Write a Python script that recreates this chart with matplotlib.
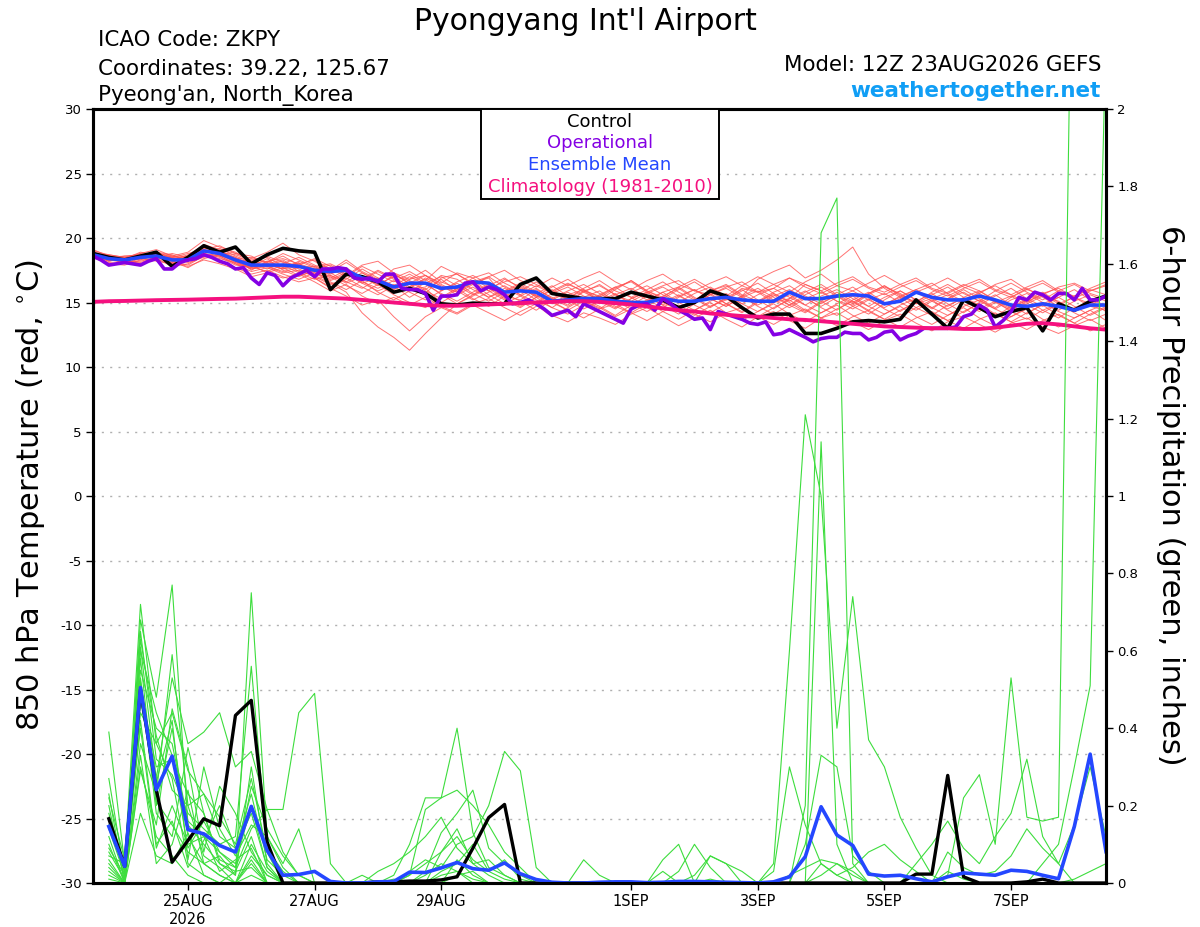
import matplotlib
matplotlib.use("Agg")
import matplotlib.pyplot as plt
from matplotlib.patches import Rectangle
import numpy as np
import pandas as pd

plt.rcParams["axes.unicode_minus"] = False

### Forecast times of the 12Z 23AUG2026 GEFS run
times_6h = pd.date_range("2026-08-23 12:00", "2026-09-08 12:00", freq="6h")   # 65 steps
times_3h = pd.date_range("2026-08-23 12:00", "2026-09-08 12:00", freq="3h")   # operational run, 129 steps

## 850 hPa temperature (deg C)
control_temp = [18.8, 18.5, 18.3, 18.6, 18.9, 17.8, 18.5, 19.4, 18.9, 19.3, 18.0, 18.7, 19.2, 19.0, 18.9,
                16.0, 17.2, 17.0, 16.6, 15.8, 16.1, 15.7, 14.9, 14.8, 14.95, 14.9, 14.9, 16.4, 16.9, 15.7,
                15.5, 15.3, 15.3, 15.3, 15.8, 15.5, 15.2, 14.6, 15.0, 15.9, 15.5, 14.6, 13.8, 14.1, 14.1,
                12.6, 12.6, 13.0, 13.5, 13.6, 13.5, 13.7, 15.2, 14.1, 13.0, 15.2, 14.6, 13.9, 14.3, 14.6,
                12.8, 14.9, 14.4, 15.1, 15.5]
ensmean_temp = [18.7, 18.4, 18.3, 18.5, 18.6, 18.3, 18.3, 19.0, 18.8, 18.3, 17.9, 17.9, 17.9, 17.8, 17.5,
                17.4, 17.5, 16.9, 16.7, 16.2, 16.5, 16.5, 16.1, 16.2, 16.6, 16.5, 15.8, 15.9, 15.8, 15.1,
                15.2, 15.3, 15.3, 15.1, 15.0, 15.0, 15.3, 15.1, 15.1, 15.3, 15.4, 15.2, 15.1, 15.1, 15.8,
                15.3, 15.3, 15.5, 15.6, 15.5, 14.9, 15.1, 15.8, 15.4, 15.2, 15.2, 15.5, 15.2, 14.8, 14.7,
                14.9, 14.7, 14.4, 14.8, 14.8]
clim_temp = [15.05, 15.1, 15.12, 15.15, 15.18, 15.2, 15.22, 15.25, 15.28, 15.3, 15.35, 15.4, 15.45, 15.45, 15.4,
             15.35, 15.3, 15.2, 15.1, 15.0, 14.9, 14.8, 14.75, 14.75, 14.8, 14.85, 14.9, 14.95, 15.0, 15.05,
             15.1, 15.1, 15.05, 14.95, 14.85, 14.7, 14.55, 14.4, 14.3, 14.15, 14.05, 13.95, 13.9, 13.8, 13.7,
             13.65, 13.55, 13.45, 13.35, 13.25, 13.15, 13.1, 13.05, 13.0, 13.0, 12.95, 12.95, 13.05, 13.2, 13.35,
             13.4, 13.3, 13.15, 13.0, 12.9]
oper_temp = [18.6, 18.3, 17.9, 18.0, 18.1, 18.0, 17.9, 18.2, 18.4, 17.6, 17.6, 18.1, 18.3, 18.4, 18.7,
             18.5, 18.2, 18.0, 17.6, 17.7, 16.9, 16.4, 17.3, 17.1, 16.3, 16.9, 17.2, 17.5, 17.0, 17.6,
             17.6, 17.7, 17.6, 16.9, 16.8, 16.9, 16.6, 17.2, 17.2, 16.1, 16.0, 16.0, 15.7, 14.4, 15.5,
             15.5, 15.6, 16.5, 16.6, 15.9, 16.2, 16.0, 15.6, 14.9, 15.0, 15.2, 14.9, 14.5, 14.0, 14.2,
             14.4, 13.9, 14.9, 14.6, 14.3, 14.0, 13.7, 13.4, 14.5, 14.8, 14.9, 14.4, 15.3, 14.9, 14.4,
             14.1, 13.7, 13.8, 12.9, 14.3, 14.1, 13.9, 13.7, 13.4, 13.3, 13.5, 12.5, 12.6, 12.9, 12.6,
             12.3, 11.95, 12.2, 12.3, 12.3, 12.7, 12.6, 12.6, 12.1, 12.3, 12.7, 12.8, 12.1, 12.4, 12.6,
             13.0, 13.0, 13.0, 13.0, 13.1, 13.9, 14.1, 14.8, 14.4, 13.1, 13.6, 14.3, 15.4, 15.2, 15.8,
             15.6, 15.2, 15.7, 15.7, 15.2, 16.1, 15.2, 15.2, 15.5]

# 20 perturbed members, one row each
member_temp = [
    [18.8, 18.5, 18.2, 18.6, 18.9, 18.4, 18.2, 19.2, 19.0, 18.5, 18.0, 18.2, 18.4, 18.0, 17.6, 17.9, 17.2, 16.5, 16.9, 16.0, 16.8, 17.1, 16.2, 15.8, 16.5, 16.9, 15.5, 15.2, 16.0, 15.4, 14.8, 15.9, 16.3, 15.6, 14.9, 15.1, 15.8, 16.2, 15.4, 14.7, 15.2, 16.1, 15.8, 15.0, 15.3, 16.4, 15.9, 15.1, 14.8, 15.6, 16.2, 15.7, 14.9, 15.3, 15.8, 16.4, 15.9, 15.2, 14.6, 14.9, 15.5, 15.1, 14.3, 14.8, 15.4],
    [18.6, 18.2, 18.4, 18.9, 18.7, 18.1, 18.6, 19.5, 19.1, 18.8, 18.4, 18.9, 19.6, 18.7, 18.2, 17.5, 18.3, 17.4, 16.8, 17.3, 16.4, 15.7, 16.9, 17.2, 16.5, 15.9, 16.8, 16.2, 15.4, 15.9, 16.5, 15.8, 15.2, 16.0, 16.7, 15.9, 15.4, 16.2, 16.8, 16.1, 15.5, 16.3, 17.0, 16.4, 15.8, 16.6, 17.2, 16.3, 15.9, 16.5, 17.1, 16.4, 15.8, 16.3, 16.9, 16.2, 15.7, 16.4, 16.8, 16.0, 15.6, 16.2, 16.5, 15.9, 16.3],
    [18.5, 18.0, 17.9, 18.3, 18.4, 17.8, 18.0, 18.6, 18.3, 17.7, 17.2, 17.5, 17.0, 16.6, 16.9, 16.1, 15.5, 14.8, 15.2, 13.9, 12.8, 13.9, 14.6, 14.1, 14.8, 14.2, 13.6, 14.3, 14.9, 14.0, 13.5, 14.2, 13.8, 13.3, 14.1, 14.6, 13.9, 13.2, 13.8, 14.4, 13.7, 13.1, 13.9, 14.3, 13.6, 13.0, 13.8, 14.2, 13.5, 12.9, 13.6, 14.1, 13.4, 12.8, 13.5, 13.9, 13.3, 12.7, 13.4, 13.8, 13.1, 12.6, 13.2, 13.7, 13.0],
    [19.0, 18.7, 18.5, 18.8, 19.1, 18.6, 18.9, 19.8, 19.3, 18.9, 18.2, 18.6, 18.1, 17.9, 18.4, 17.8, 17.1, 17.9, 18.2, 17.3, 16.8, 17.5, 16.6, 16.1, 16.9, 17.3, 16.5, 15.9, 16.6, 15.8, 15.3, 16.1, 16.7, 15.9, 15.4, 16.0, 16.6, 15.8, 15.2, 15.9, 16.4, 15.6, 15.1, 15.8, 16.3, 15.5, 14.9, 15.6, 16.2, 15.4, 14.8, 15.5, 16.0, 15.3, 14.7, 15.4, 15.9, 15.1, 14.5, 15.2, 15.8, 15.0, 14.4, 15.1, 15.6],
    [18.4, 18.3, 18.1, 18.2, 18.5, 18.2, 17.7, 18.4, 18.7, 18.1, 17.6, 17.8, 17.3, 17.5, 17.0, 16.4, 16.9, 16.2, 15.6, 16.3, 15.4, 16.1, 15.0, 15.7, 16.4, 15.6, 14.9, 15.5, 16.1, 15.3, 14.7, 15.4, 15.9, 15.1, 14.5, 15.2, 15.8, 15.0, 14.4, 15.1, 15.7, 14.9, 14.3, 15.0, 15.6, 14.8, 14.2, 14.9, 15.5, 14.7, 14.1, 14.8, 15.3, 14.6, 14.0, 14.7, 15.2, 14.5, 13.9, 14.6, 15.0, 14.3, 13.8, 14.4, 14.9],
    [18.9, 18.4, 18.6, 18.7, 18.3, 18.5, 18.8, 19.1, 18.6, 18.0, 17.7, 18.0, 18.3, 17.6, 17.1, 16.5, 15.8, 14.2, 13.1, 12.3, 11.3, 12.6, 13.8, 14.9, 15.6, 16.2, 15.4, 14.8, 15.7, 16.3, 15.5, 14.9, 15.6, 16.2, 15.4, 14.7, 15.5, 16.1, 15.3, 14.6, 15.4, 16.0, 15.2, 14.5, 15.3, 15.9, 15.1, 14.4, 15.2, 15.8, 15.0, 14.3, 15.1, 15.7, 14.9, 14.2, 15.0, 15.6, 14.8, 14.1, 14.9, 15.4, 14.7, 14.0, 14.6],
    [18.7, 18.6, 18.4, 18.3, 18.8, 18.3, 18.5, 18.9, 19.2, 18.6, 18.1, 17.6, 18.0, 18.5, 17.9, 17.2, 17.7, 16.9, 16.4, 17.0, 16.2, 16.8, 15.9, 16.6, 17.1, 16.4, 15.7, 16.3, 15.5, 14.9, 15.6, 16.0, 15.2, 14.6, 15.3, 15.8, 15.1, 14.5, 15.2, 15.9, 16.3, 15.5, 16.8, 17.4, 17.9, 16.9, 17.5, 18.3, 19.3, 17.2, 16.1, 15.4, 16.0, 16.5, 15.7, 15.1, 15.8, 16.3, 15.6, 15.0, 15.7, 16.1, 15.4, 14.9, 15.5],
    [18.6, 18.4, 18.3, 18.5, 18.2, 18.0, 18.3, 18.7, 18.4, 18.1, 17.8, 17.4, 17.9, 17.3, 16.8, 17.1, 16.6, 17.3, 16.7, 16.0, 16.6, 15.9, 15.3, 16.0, 16.7, 15.9, 15.2, 14.6, 15.4, 16.0, 15.2, 14.5, 15.1, 15.7, 14.9, 14.3, 15.0, 15.6, 14.8, 14.2, 14.9, 15.5, 14.7, 14.1, 14.8, 15.4, 14.6, 14.0, 14.7, 15.3, 14.5, 13.9, 14.6, 15.2, 14.4, 13.8, 14.5, 15.1, 14.3, 13.7, 14.4, 14.9, 14.2, 13.6, 14.1],
    [18.8, 18.3, 18.2, 18.7, 18.9, 18.7, 18.2, 19.3, 19.0, 18.4, 18.5, 18.1, 18.8, 18.3, 17.8, 18.0, 17.4, 16.8, 17.5, 16.9, 17.4, 16.7, 17.8, 17.2, 16.4, 17.0, 17.5, 16.7, 16.2, 16.9, 16.3, 16.9, 17.4, 16.6, 16.0, 16.7, 17.2, 16.4, 15.9, 16.5, 17.0, 16.3, 15.8, 16.4, 16.9, 16.2, 15.7, 16.3, 16.8, 16.1, 15.6, 16.2, 16.7, 16.0, 15.5, 16.1, 16.6, 15.9, 15.4, 16.0, 16.5, 15.8, 15.3, 15.9, 16.4],
    [18.5, 18.1, 18.0, 18.4, 18.6, 18.4, 18.1, 18.5, 18.9, 18.3, 17.9, 17.3, 17.7, 17.1, 17.4, 16.7, 17.2, 16.5, 15.9, 16.4, 15.8, 15.2, 15.9, 16.5, 15.7, 15.1, 15.8, 16.4, 15.6, 15.0, 14.4, 15.1, 14.6, 13.9, 14.5, 15.0, 14.3, 13.7, 14.4, 15.0, 14.2, 13.6, 14.3, 14.9, 14.1, 13.5, 14.2, 14.8, 14.0, 13.4, 14.1, 14.7, 13.9, 13.3, 14.0, 14.6, 13.8, 13.2, 13.9, 14.5, 13.7, 13.1, 13.8, 14.4, 13.6],
    [19.1, 18.6, 18.3, 18.8, 18.6, 18.3, 18.7, 19.4, 18.8, 18.5, 17.5, 18.2, 17.7, 18.1, 16.9, 16.2, 16.8, 17.6, 16.9, 16.3, 17.0, 16.4, 15.7, 15.1, 15.8, 16.4, 15.7, 15.1, 14.4, 15.2, 15.8, 15.1, 14.5, 15.3, 15.9, 15.2, 14.6, 15.4, 16.0, 15.3, 14.7, 15.5, 16.1, 15.4, 14.8, 15.6, 16.2, 15.5, 14.9, 15.7, 16.3, 15.6, 15.0, 15.8, 16.4, 15.7, 15.1, 15.9, 16.5, 15.8, 15.2, 15.9, 16.4, 15.7, 15.3],
    [18.7, 18.2, 18.5, 18.4, 18.7, 18.0, 18.4, 19.0, 18.7, 18.2, 17.6, 17.9, 18.2, 17.4, 17.6, 17.0, 16.3, 15.7, 16.4, 15.6, 15.0, 14.6, 15.4, 16.1, 15.3, 14.7, 15.5, 16.0, 15.2, 14.6, 15.4, 15.9, 15.1, 14.5, 15.3, 15.8, 15.0, 14.4, 15.2, 15.7, 14.9, 14.3, 15.1, 15.6, 14.8, 14.2, 15.0, 15.5, 14.7, 14.1, 14.9, 15.4, 14.6, 14.0, 14.8, 15.3, 14.5, 13.9, 14.7, 15.2, 14.4, 13.8, 14.6, 15.1, 14.3],
    [18.6, 18.5, 18.6, 18.6, 18.4, 18.6, 18.3, 18.8, 18.5, 17.9, 17.8, 18.4, 17.5, 17.0, 17.5, 16.9, 17.5, 16.7, 17.4, 16.8, 16.1, 16.9, 16.3, 15.6, 16.2, 15.4, 16.1, 15.5, 14.8, 13.9, 14.6, 15.3, 14.7, 14.0, 14.8, 15.5, 14.8, 14.1, 14.9, 15.6, 14.9, 14.2, 15.0, 15.7, 15.0, 14.3, 15.1, 15.8, 15.1, 14.4, 15.2, 15.9, 15.2, 14.5, 15.3, 16.0, 15.3, 14.6, 15.4, 16.1, 15.4, 14.7, 15.5, 16.0, 15.6],
    [18.4, 18.6, 18.2, 18.1, 18.5, 18.8, 18.5, 19.1, 19.4, 18.8, 18.6, 18.0, 17.6, 18.2, 17.7, 17.4, 18.1, 17.3, 16.6, 17.6, 17.9, 17.1, 16.5, 17.3, 16.9, 16.1, 16.6, 17.0, 16.4, 15.8, 16.4, 15.9, 15.5, 16.2, 16.6, 15.8, 16.3, 16.7, 15.9, 15.6, 16.2, 16.6, 15.8, 16.1, 16.9, 16.4, 15.9, 16.5, 17.0, 16.2, 15.8, 16.4, 16.9, 16.1, 15.7, 16.3, 16.8, 16.0, 15.6, 16.2, 16.7, 15.9, 15.5, 16.1, 16.6],
    [18.9, 18.3, 18.4, 18.6, 18.8, 18.2, 17.9, 18.6, 18.6, 18.0, 17.4, 17.7, 17.2, 16.8, 17.3, 16.6, 16.0, 16.7, 15.8, 15.2, 15.9, 16.5, 15.6, 14.9, 15.5, 16.1, 15.3, 14.7, 15.4, 14.6, 14.1, 14.8, 15.5, 14.7, 14.2, 14.9, 15.4, 14.6, 14.0, 14.7, 15.3, 14.5, 13.9, 14.6, 15.2, 14.4, 13.8, 14.5, 15.1, 14.3, 13.7, 14.4, 15.0, 14.2, 13.6, 14.3, 14.9, 14.1, 13.5, 14.2, 14.8, 14.0, 13.4, 14.1, 14.7],
    [18.8, 18.7, 18.5, 18.5, 18.9, 18.5, 18.6, 19.3, 18.9, 18.7, 18.3, 18.5, 17.8, 18.0, 18.3, 17.6, 17.0, 17.8, 17.2, 16.6, 17.2, 16.5, 17.0, 16.3, 15.6, 16.3, 16.9, 16.1, 15.5, 16.2, 16.8, 16.0, 15.4, 16.1, 16.7, 15.9, 15.3, 16.0, 16.6, 15.8, 15.2, 15.9, 16.5, 15.7, 15.1, 15.8, 16.4, 15.6, 15.0, 15.7, 16.3, 15.5, 14.9, 15.6, 16.2, 15.4, 14.8, 15.5, 16.1, 15.3, 14.7, 15.4, 16.0, 15.2, 14.8],
    [18.5, 18.4, 18.3, 18.0, 18.3, 18.1, 17.8, 18.3, 18.0, 17.6, 17.0, 17.3, 16.9, 17.2, 16.6, 15.9, 16.4, 15.5, 14.9, 15.4, 14.8, 15.4, 14.7, 14.2, 14.9, 15.3, 14.6, 14.0, 14.7, 15.1, 14.4, 13.8, 14.5, 14.9, 14.2, 13.6, 14.3, 14.8, 14.1, 13.5, 14.2, 14.6, 13.9, 13.3, 14.0, 14.5, 13.8, 13.2, 13.9, 14.4, 13.7, 13.1, 13.8, 14.3, 13.6, 13.0, 13.7, 14.2, 13.5, 12.9, 13.6, 14.1, 13.4, 12.8, 13.3],
    [18.7, 18.5, 18.0, 18.5, 18.7, 18.4, 18.5, 18.8, 18.6, 18.4, 18.0, 17.9, 17.6, 17.8, 17.2, 17.3, 16.6, 16.1, 16.8, 17.2, 16.5, 17.1, 16.4, 15.8, 16.6, 17.0, 16.2, 15.6, 16.3, 15.7, 15.2, 15.8, 16.4, 15.6, 15.1, 15.7, 16.2, 15.5, 14.9, 15.6, 16.1, 15.4, 14.8, 15.5, 16.0, 15.3, 14.7, 15.4, 15.9, 15.2, 14.6, 15.3, 15.8, 15.1, 14.5, 15.2, 15.7, 15.0, 14.4, 15.1, 15.6, 14.9, 14.3, 15.0, 15.5],
    [18.6, 18.3, 18.4, 18.7, 18.8, 18.6, 18.4, 19.0, 18.8, 18.2, 17.7, 18.1, 18.6, 17.9, 17.3, 16.8, 17.3, 16.6, 16.1, 16.7, 16.0, 16.2, 17.1, 16.8, 16.0, 15.4, 15.9, 16.5, 15.8, 15.3, 15.9, 16.4, 15.7, 15.1, 15.8, 16.3, 15.6, 15.0, 15.7, 16.2, 15.5, 14.9, 15.6, 16.1, 15.4, 14.8, 15.5, 16.0, 15.3, 14.7, 15.4, 15.9, 15.2, 14.6, 15.3, 15.8, 15.1, 14.5, 15.2, 15.7, 15.0, 14.4, 15.1, 15.6, 15.1],
    [18.9, 18.6, 18.4, 18.4, 18.6, 18.5, 18.2, 18.9, 19.0, 18.3, 18.2, 17.8, 17.4, 17.7, 17.8, 17.1, 16.5, 17.0, 16.3, 17.1, 16.7, 16.0, 16.8, 15.9, 15.2, 15.8, 16.3, 15.6, 15.0, 15.7, 16.2, 15.5, 14.9, 15.6, 16.1, 15.4, 14.8, 15.5, 16.0, 15.3, 14.7, 15.4, 15.9, 15.2, 14.6, 15.3, 15.8, 15.1, 14.5, 15.2, 15.7, 15.0, 14.4, 15.1, 15.6, 14.9, 14.3, 15.0, 15.5, 14.8, 14.2, 14.9, 15.4, 14.7, 14.4],
]

## 6-hour precipitation (inches), valid from hour 6 to hour 384
control_precip = [0.166, 0.043, 0.50, 0.24, 0.054, 0.11, 0.166, 0.148, 0.433, 0.472, 0.106, 0.0, 0.0, 0.0, 0.0, 0.0,
                  0.0, 0.003, 0.003, 0.005, 0.005, 0.008, 0.016, 0.09, 0.169, 0.203, 0.0, 0.0, 0.0, 0.0, 0.0, 0.0,
                  0.0, 0.0, 0.0, 0.0, 0.0, 0.0, 0.0, 0.0, 0.0, 0.0, 0.0, 0.0, 0.0, 0.0, 0.0, 0.0,
                  0.0, 0.0, 0.0, 0.023, 0.023, 0.278, 0.016, 0.0, 0.0, 0.0, 0.003, 0.01, 0.0, 0.0, 0.0, 0.0]
ensmean_precip = [0.146, 0.043, 0.505, 0.241, 0.328, 0.138, 0.127, 0.097, 0.080, 0.198, 0.084, 0.020, 0.022, 0.030, 0.004, 0.0,
                  0.0, 0.003, 0.004, 0.028, 0.027, 0.039, 0.053, 0.037, 0.033, 0.052, 0.024, 0.009, 0.002, 0.0, 0.0, 0.002,
                  0.003, 0.003, 0.001, 0.002, 0.004, 0.004, 0.003, 0.002, 0.001, 0.0, 0.003, 0.016, 0.068, 0.197, 0.124, 0.097,
                  0.023, 0.018, 0.020, 0.011, 0.003, 0.016, 0.026, 0.023, 0.020, 0.033, 0.030, 0.020, 0.011, 0.146, 0.333, 0.081]

member_precip = [
    [0.39, 0.05, 0.72, 0.36, 0.44, 0.29, 0.23, 0.12, 0.09, 0.23, 0.06, 0.02, 0, 0, 0, 0, 0, 0, 0, 0.02, 0.05, 0.08, 0.12, 0.06, 0.03, 0.01, 0, 0, 0, 0, 0, 0, 0, 0, 0, 0, 0, 0, 0.01, 0, 0, 0, 0, 0.02, 0.04, 0.06, 0.05, 0.02, 0, 0, 0, 0, 0, 0, 0, 0, 0, 0, 0, 0, 0, 0.01, 0.03, 0.05],
    [0.27, 0.02, 0.68, 0.48, 0.77, 0.15, 0.10, 0.05, 0.02, 0.75, 0.12, 0.04, 0, 0, 0, 0, 0, 0, 0, 0, 0, 0.02, 0.03, 0.01, 0, 0, 0, 0, 0, 0, 0, 0, 0, 0, 0, 0, 0, 0, 0, 0, 0, 0, 0.05, 0.60, 1.21, 1.00, 0.40, 0.74, 0.37, 0.30, 0.17, 0.09, 0.02, 0, 0, 0, 0, 0, 0, 0, 0, 0, 0, 0],
    [0.23, 0.00, 0.61, 0.27, 0.53, 0.36, 0.39, 0.44, 0.30, 0.34, 0.19, 0.08, 0.02, 0, 0, 0, 0, 0, 0, 0, 0, 0, 0, 0, 0, 0, 0, 0, 0, 0, 0, 0, 0, 0, 0, 0, 0, 0, 0, 0, 0, 0, 0, 0, 0.20, 1.68, 1.77, 0.05, 0, 0, 0, 0, 0, 0, 0, 0, 0, 0, 0, 0, 0, 0, 0, 0],
    [0.18, 0.03, 0.58, 0.20, 0.40, 0.12, 0.05, 0.02, 0, 0.07, 0.02, 0, 0, 0, 0, 0, 0, 0, 0.01, 0, 0.03, 0.13, 0.18, 0.24, 0.09, 0.05, 0.02, 0, 0, 0, 0, 0, 0, 0, 0, 0, 0, 0, 0, 0, 0, 0, 0, 0, 0, 1.14, 0.10, 0, 0, 0, 0, 0, 0, 0, 0, 0, 0, 0, 0, 0, 0, 0, 0, 0],
    [0.10, 0.00, 0.50, 0.30, 0.32, 0.23, 0.18, 0.06, 0.04, 0.14, 0.19, 0.19, 0.44, 0.49, 0.05, 0, 0, 0, 0, 0, 0, 0, 0, 0, 0, 0, 0, 0, 0, 0, 0, 0, 0, 0, 0, 0, 0, 0, 0, 0, 0, 0, 0, 0, 0, 0.02, 0.05, 0.03, 0, 0, 0, 0, 0, 0, 0, 0, 0, 0, 0, 0, 0, 0, 0, 0],
    [0.09, 0.02, 0.44, 0.36, 0.27, 0.05, 0.02, 0, 0, 0.05, 0, 0, 0, 0, 0, 0, 0, 0, 0.02, 0.10, 0.22, 0.22, 0.40, 0.13, 0.04, 0.02, 0, 0, 0, 0, 0, 0, 0, 0, 0, 0, 0, 0, 0, 0, 0, 0, 0, 0, 0, 0, 0, 0, 0, 0, 0, 0, 0, 0, 0, 0, 0, 0, 0, 0, 0, 0, 0, 0],
    [0.04, 0.00, 0.36, 0.23, 0.59, 0.20, 0.23, 0.17, 0.10, 0.27, 0.08, 0, 0, 0, 0, 0, 0, 0, 0, 0.03, 0.06, 0.04, 0.10, 0.12, 0.20, 0.34, 0.29, 0.04, 0, 0, 0, 0, 0, 0, 0, 0, 0, 0, 0, 0, 0, 0, 0, 0, 0, 0, 0, 0, 0, 0, 0, 0, 0, 0, 0, 0, 0, 0, 0, 0, 0, 0, 0, 0, 0],
    [0.02, 0.00, 0.30, 0.12, 0.07, 0.02, 0, 0, 0, 0.02, 0, 0, 0, 0, 0, 0, 0, 0, 0, 0, 0.02, 0.05, 0.03, 0, 0, 0, 0, 0, 0, 0, 0, 0, 0, 0, 0, 0, 0, 0, 0, 0, 0, 0, 0, 0, 0, 0, 0, 0, 0, 0, 0, 0, 0, 0.02, 0.22, 0.28, 0.10, 0.53, 0.17, 0.16, 0.17, 2.90, 3.00, 2.50],
    [0.12, 0.00, 0.53, 0.21, 0.15, 0.08, 0.05, 0.02, 0, 0.10, 0.03, 0, 0, 0, 0, 0, 0, 0, 0, 0, 0, 0, 0, 0, 0, 0, 0, 0, 0, 0, 0.06, 0.02, 0, 0, 0, 0, 0, 0, 0, 0, 0, 0, 0, 0, 0, 0, 0, 0, 0, 0, 0, 0, 0, 0, 0, 0, 0, 0, 0, 0.05, 0.10, 0.30, 0.51, 2.20],
    [0.07, 0.05, 0.40, 0.09, 0.20, 0.10, 0.12, 0.08, 0.05, 0.20, 0.04, 0, 0, 0, 0, 0, 0, 0, 0, 0, 0, 0, 0.02, 0.03, 0, 0, 0, 0, 0, 0, 0, 0, 0, 0, 0, 0, 0, 0, 0, 0, 0, 0, 0, 0, 0.10, 0.33, 0.30, 0.07, 0.03, 0, 0, 0, 0, 0, 0, 0, 0, 0, 0, 0, 0, 0, 0, 0],
    [0.05, 0.00, 0.29, 0.15, 0.45, 0.30, 0.08, 0.25, 0.18, 0.08, 0.02, 0, 0, 0, 0, 0, 0, 0.03, 0.05, 0.08, 0.12, 0.17, 0.09, 0.05, 0.06, 0.02, 0, 0, 0, 0, 0, 0, 0, 0, 0, 0, 0, 0, 0, 0, 0, 0, 0.03, 0.30, 0.15, 0.05, 0.02, 0, 0, 0, 0, 0, 0, 0, 0, 0, 0, 0, 0, 0, 0, 0, 0, 0],
    [0.15, 0.04, 0.55, 0.40, 0.36, 0.16, 0.12, 0.03, 0.06, 0.09, 0, 0, 0, 0, 0, 0, 0, 0, 0, 0, 0, 0, 0, 0, 0, 0, 0, 0, 0, 0, 0, 0, 0, 0, 0, 0, 0, 0, 0, 0, 0, 0, 0, 0, 0, 0, 0, 0, 0, 0, 0, 0.05, 0.10, 0.16, 0.09, 0.05, 0.12, 0.18, 0.32, 0.12, 0.05, 0, 0, 0],
    [0.08, 0.01, 0.65, 0.32, 0.28, 0.18, 0.14, 0.10, 0.12, 0.56, 0.09, 0.03, 0, 0, 0, 0, 0, 0, 0, 0, 0, 0.03, 0.05, 0.10, 0.03, 0.06, 0.01, 0, 0, 0, 0, 0, 0, 0, 0, 0, 0.03, 0.10, 0.04, 0, 0, 0, 0, 0, 0, 0, 0, 0, 0, 0, 0, 0, 0, 0, 0, 0, 0, 0, 0, 0, 0, 0, 0, 0],
    [0.20, 0.00, 0.47, 0.26, 0.42, 0.06, 0.30, 0.14, 0.07, 0.15, 0.12, 0.05, 0.14, 0, 0, 0, 0, 0, 0, 0, 0, 0, 0.06, 0.02, 0, 0, 0, 0, 0, 0, 0, 0, 0, 0, 0, 0, 0, 0, 0.07, 0.05, 0, 0, 0, 0, 0, 0, 0, 0, 0, 0, 0, 0, 0, 0, 0, 0, 0, 0, 0, 0, 0, 0, 0, 0, 0],
    [0.03, 0.00, 0.33, 0.05, 0.10, 0.24, 0.05, 0.07, 0.02, 0.30, 0.05, 0, 0, 0, 0, 0, 0.02, 0, 0, 0.02, 0.19, 0.22, 0.24, 0.20, 0.15, 0.08, 0.04, 0, 0, 0, 0, 0, 0, 0, 0, 0, 0, 0, 0, 0, 0, 0, 0, 0, 0, 0, 0, 0, 0, 0, 0, 0, 0, 0, 0, 0, 0, 0, 0, 0, 0, 0, 0, 0],
    [0.14, 0.02, 0.63, 0.38, 0.24, 0.20, 0.07, 0.04, 0, 0.06, 0, 0, 0, 0, 0, 0, 0, 0, 0, 0, 0, 0, 0, 0, 0, 0, 0, 0, 0, 0, 0, 0, 0, 0, 0, 0, 0, 0, 0, 0, 0, 0, 0, 0, 0, 0, 0, 0, 0, 0, 0, 0, 0, 0.08, 0.04, 0.02, 0.03, 0.07, 0.14, 0.09, 0.05, 0.15, 0.30, 0.12],
    [0.06, 0.00, 0.42, 0.10, 0.16, 0.04, 0.11, 0.20, 0.09, 0.18, 0.04, 0, 0, 0, 0, 0, 0, 0, 0, 0, 0, 0, 0, 0, 0, 0, 0, 0, 0, 0, 0, 0, 0, 0, 0, 0.06, 0.10, 0, 0, 0, 0, 0, 0, 0, 0, 0.05, 0.02, 0.04, 0.08, 0.10, 0.06, 0.03, 0, 0, 0, 0, 0, 0, 0, 0, 0, 0, 0, 0],
    [0.01, 0.00, 0.18, 0.07, 0.05, 0.13, 0.02, 0, 0.03, 0.12, 0, 0, 0, 0, 0, 0, 0, 0, 0, 0, 0, 0.08, 0.14, 0.05, 0.02, 0, 0, 0, 0, 0, 0, 0, 0, 0, 0, 0, 0, 0, 0, 0, 0, 0, 0, 0, 0, 0, 0, 0, 0, 0, 0, 0, 0, 0, 0, 0, 0, 0, 0, 0, 0, 0, 0, 0, 0],
    [0.17, 0.03, 0.60, 0.44, 0.33, 0.09, 0.16, 0.08, 0.04, 0.25, 0.14, 0.07, 0.02, 0, 0, 0, 0, 0, 0, 0, 0, 0, 0, 0, 0, 0, 0, 0, 0, 0, 0, 0, 0, 0, 0, 0, 0, 0, 0, 0, 0, 0, 0, 0, 0, 0, 0, 0, 0, 0, 0, 0, 0, 0, 0, 0, 0, 0, 0, 0, 0, 0, 0, 0],
    [0.22, 0.06, 0.52, 0.18, 0.12, 0.35, 0.18, 0.05, 0.03, 0.04, 0, 0, 0, 0, 0, 0, 0, 0, 0, 0, 0, 0, 0, 0, 0, 0, 0, 0, 0, 0, 0, 0, 0, 0, 0, 0.03, 0, 0.02, 0.07, 0.05, 0.03, 0, 0, 0, 0, 0, 0, 0, 0, 0, 0, 0, 0, 0.03, 0.01, 0, 0, 0, 0, 0, 0, 0, 0, 0],
]

tick_dates = ["2026-08-25", "2026-08-27", "2026-08-29", "2026-09-01", "2026-09-03", "2026-09-05", "2026-09-07"]
tick_labels = ["25AUG\n2026", "27AUG", "29AUG", "1SEP", "3SEP", "5SEP", "7SEP"]

# colours
c_red = "#ff5050"
c_green = "#3ddd3d"
c_purple = "#8400e4"
c_blue = "#2447ff"
c_pink = "#f5107f"

### Plot set up, pixel layout of the 1200x927 original
W, H = 1200, 927
fig = plt.figure(figsize=(12, 9.27), dpi=100)
ax = fig.add_axes([93 / W, 1 - 883 / H, (1106 - 93) / W, (883 - 109) / H])
ax2 = ax.twinx()

# dotted grid at the temperature ticks
for v in range(-25, 30, 5):
    ax.axhline(v, color="#b0b0b0", lw=1.0, ls=(0, (1.5, 4.5)), zorder=0)

# temperature
for m in member_temp:
    n = min(len(m), len(times_6h))
    ax.plot(times_6h[:n], m[:n], color=c_red, lw=0.7, alpha=0.8)
ax.plot(times_6h, control_temp, color="black", lw=2.6)
ax.plot(times_6h, ensmean_temp, color=c_blue, lw=2.6)
ax.plot(times_3h[:len(oper_temp)], oper_temp, color=c_purple, lw=2.6)
ax.plot(times_6h, clim_temp, color=c_pink, lw=2.8)

# precipitation, first value is hour 6
for m in member_precip:
    n = min(len(m), len(times_6h) - 1)
    ax2.plot(times_6h[1:1 + n], m[:n], color=c_green, lw=0.8)
ax2.plot(times_6h[1:], control_precip, color="black", lw=2.4)
ax2.plot(times_6h[1:], ensmean_precip, color=c_blue, lw=2.6)

ax.set_xlim(times_6h[0], times_6h[-1])
ax.set_ylim(-30, 30)
ax2.set_ylim(0, 2)

ax.set_yticks(range(-30, 31, 5))
ax.tick_params(axis="y", direction="out", length=5, width=1, labelsize=9.5, pad=3)
ax2.set_yticks(np.arange(0, 2.01, 0.2))
ax2.set_yticklabels([f"{v:g}" for v in np.arange(0, 2.01, 0.2)])
ax2.tick_params(axis="y", direction="out", length=5, width=1, labelsize=9.5, pad=3)
ax.set_xticks(pd.to_datetime(tick_dates))
ax.set_xticklabels(tick_labels, fontsize=10.5)
ax.tick_params(axis="x", direction="out", length=5, width=1, pad=3)

for a in (ax, ax2):
    for s in a.spines.values():
        s.set_linewidth(2.2)

### Texts
fig.text(585 / W, 1 - 30 / H, "Pyongyang Int'l Airport", ha="center", va="baseline", fontsize=21.5)
fig.text(98 / W, 1 - 46 / H, "ICAO Code: ZKPY", ha="left", va="baseline", fontsize=15.4)
fig.text(98 / W, 1 - 75 / H, "Coordinates: 39.22, 125.67", ha="left", va="baseline", fontsize=15.4)
fig.text(98 / W, 1 - 101 / H, "Pyeong'an, North_Korea", ha="left", va="baseline", fontsize=15.4)
fig.text(1101 / W, 1 - 71 / H, "Model: 12Z 23AUG2026 GEFS", ha="right", va="baseline", fontsize=15.4)
fig.text(1101 / W, 1 - 97 / H, "weathertogether.net", ha="right", va="baseline", fontsize=15.5,
         fontweight="bold", color="#109ef5")

fig.text(31 / W, 1 - 495 / H, r"850 hPa Temperature (red, $^{\circ}$C)", rotation=90,
         ha="center", va="center", fontsize=22)
fig.text(1170 / W, 1 - 495 / H, "6-hour Precipitation (green, inches)", rotation=270,
         ha="center", va="center", fontsize=22)

# legend box
fig.patches.append(Rectangle((481 / W, 1 - 199 / H), 238 / W, 90 / H, transform=fig.transFigure,
                             facecolor="white", edgecolor="black", lw=1.4, zorder=2))
leg_texts = ["Control", "Operational", "Ensemble Mean", "Climatology (1981-2010)"]
leg_colors = ["black", c_purple, c_blue, c_pink]
for k in range(len(leg_texts)):
    fig.text(600 / W, 1 - (126.5 + 21.7 * k) / H, leg_texts[k], ha="center", va="baseline",
             fontsize=13, color=leg_colors[k], zorder=3)

plt.savefig("out.png", dpi=100)
plt.close()
